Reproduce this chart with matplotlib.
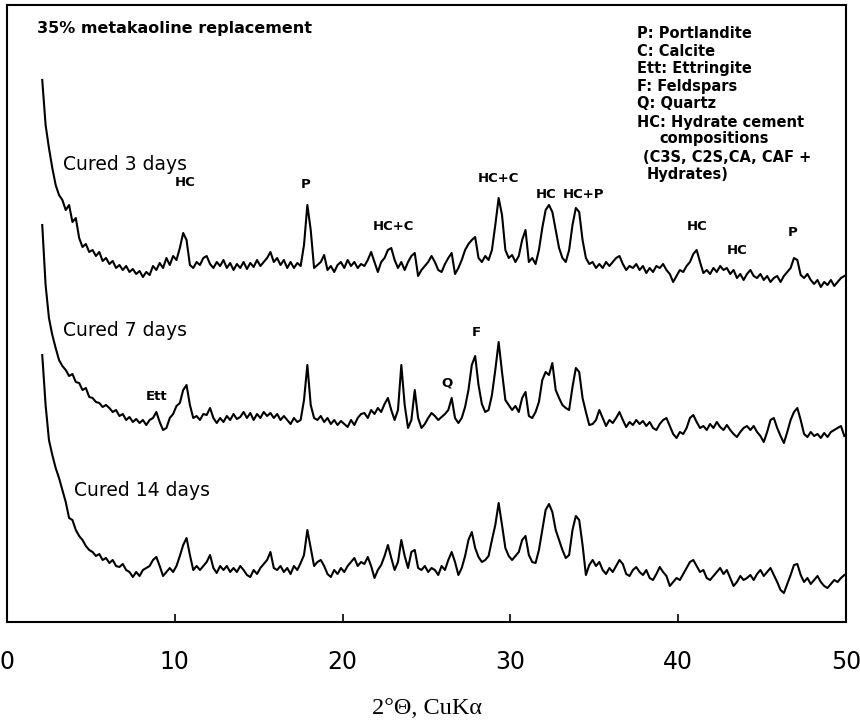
import numpy as np
import matplotlib
matplotlib.use("Agg")
import matplotlib.pyplot as plt

# 2-theta grid (deg), 0.2 deg step
two_theta = np.round(np.arange(2.1, 50.0, 0.2), 1)

# intensities (a.u.), stacked as in the figure
cured_3 = [
    542, 497, 474, 454, 437, 427, 422, 412, 417, 400,
    404, 384, 375, 378, 370, 372, 366, 370, 361, 364,
    358, 361, 354, 357, 352, 356, 350, 353, 348, 351,
    345, 350, 347, 356, 352, 359, 354, 364, 357, 366,
    362, 374, 389, 382, 357, 354, 360, 357, 364, 366,
    358, 354, 360, 356, 362, 354, 359, 352, 358, 354,
    360, 353, 359, 355, 362, 356, 360, 364, 370, 360,
    364, 357, 362, 354, 360, 354, 359, 356, 377, 417,
    392, 354, 357, 360, 367, 352, 356, 350, 357, 360,
    354, 362, 356, 360, 354, 358, 356, 362, 370, 360,
    350, 360, 364, 372, 374, 362, 354, 360, 352, 360,
    366, 369, 346, 352, 356, 360, 366, 360, 352, 350,
    358, 364, 369, 348, 354, 362, 372, 378, 382, 385,
    364, 360, 366, 362, 372, 397, 424, 407, 372, 364,
    367, 360, 366, 382, 392, 360, 364, 358, 372, 394,
    412, 417, 410, 392, 374, 364, 360, 372, 397, 414,
    410, 382, 364, 358, 360, 354, 358, 354, 360, 356,
    360, 364, 366, 358, 352, 356, 354, 358, 352, 356,
    349, 354, 350, 356, 354, 358, 352, 348, 340, 346,
    352, 350, 356, 360, 368, 372, 360, 349, 352, 348,
    354, 350, 356, 352, 354, 348, 352, 344, 348, 342,
    348, 352, 346, 344, 348, 342, 346, 340, 344, 346,
    340, 346, 350, 354, 364, 362, 347, 344, 348, 342,
    338, 342, 335, 340, 337, 342, 336, 340, 344, 346,
]

cured_7 = [
    397, 337, 304, 287, 274, 262, 256, 252, 246, 248,
    240, 239, 232, 234, 225, 224, 220, 219, 215, 217,
    214, 210, 212, 206, 208, 202, 205, 200, 203, 199,
    202, 197, 202, 204, 210, 200, 192, 194, 204, 208,
    216, 219, 232, 237, 217, 204, 206, 202, 208, 207,
    214, 204, 199, 204, 200, 206, 202, 208, 203, 205,
    210, 204, 209, 202, 208, 204, 210, 206, 209, 204,
    208, 202, 206, 202, 198, 204, 200, 202, 222, 257,
    217, 204, 202, 206, 200, 204, 198, 202, 197, 201,
    198, 195, 202, 197, 204, 208, 209, 204, 212, 208,
    214, 210, 218, 224, 212, 202, 212, 257, 217, 194,
    202, 232, 204, 194, 198, 204, 209, 206, 202, 205,
    208, 212, 224, 204, 199, 204, 215, 232, 257, 266,
    237, 218, 210, 212, 227, 252, 280, 250, 222, 217,
    212, 216, 210, 224, 230, 206, 204, 210, 220, 242,
    250, 247, 259, 232, 224, 217, 214, 212, 235, 254,
    250, 224, 210, 197, 198, 202, 212, 204, 196, 202,
    199, 204, 210, 202, 195, 200, 197, 202, 198, 201,
    196, 200, 194, 192, 198, 202, 204, 196, 188, 184,
    190, 188, 194, 204, 207, 200, 194, 196, 192, 198,
    194, 200, 195, 192, 197, 192, 188, 185, 190, 194,
    196, 192, 196, 190, 186, 180, 190, 202, 204, 194,
    186, 179, 190, 202, 210, 214, 202, 188, 185, 190,
    186, 188, 184, 189, 185, 190, 192, 194, 196, 186,
]

cured_14 = [
    267, 217, 182, 167, 154, 144, 132, 120, 104, 102,
    92, 86, 82, 76, 72, 70, 66, 68, 62, 64,
    59, 62, 56, 55, 58, 52, 50, 45, 50, 46,
    52, 54, 56, 62, 65, 56, 46, 50, 54, 50,
    56, 66, 77, 84, 67, 52, 56, 52, 56, 60,
    67, 54, 49, 56, 52, 56, 50, 54, 50, 56,
    52, 47, 45, 52, 48, 54, 58, 62, 70, 54,
    52, 56, 50, 54, 48, 56, 52, 59, 67, 92,
    74, 56, 60, 62, 56, 48, 45, 52, 48, 54,
    50, 56, 60, 64, 56, 60, 58, 65, 56, 44,
    52, 57, 66, 77, 64, 52, 60, 82, 66, 54,
    70, 72, 54, 52, 56, 50, 54, 52, 47, 56,
    52, 62, 70, 60, 47, 54, 66, 82, 90, 74,
    65, 60, 62, 66, 82, 97, 119, 97, 74, 66,
    62, 66, 70, 82, 86, 67, 60, 59, 72, 92,
    112, 118, 110, 92, 82, 72, 64, 67, 92, 106,
    102, 77, 47, 57, 62, 56, 60, 52, 48, 54,
    50, 56, 62, 58, 48, 46, 52, 55, 50, 47,
    52, 44, 42, 48, 55, 50, 46, 36, 40, 44,
    42, 48, 54, 60, 62, 56, 50, 52, 44, 42,
    46, 50, 54, 48, 52, 44, 36, 40, 46, 42,
    44, 47, 42, 48, 52, 46, 50, 54, 47, 40,
    32, 29, 38, 47, 57, 58, 47, 40, 44, 38,
    42, 46, 40, 36, 34, 38, 42, 40, 44, 47,
]

series_names = ["Cured 3 days", "Cured 7 days", "Cured 14 days"]
name_pos = [(3.34, 457), (3.34, 292), (4.0, 132)]

peak_labels = ["HC", "P", "HC+C", "HC+C", "HC", "HC+P", "HC", "HC", "P", "Ett", "Q", "F"]
peak_x = [10.6, 17.8, 23.0, 29.3, 32.1, 34.35, 41.1, 43.5, 46.8, 8.9, 26.2, 27.95]
peak_y = [440, 437, 395, 444, 427, 427, 396, 372, 389, 226, 239, 290]

key_lines = ["P: Portlandite", "C: Calcite", "Ett: Ettringite", "F: Feldspars",
             "Q: Quartz", "HC: Hydrate cement", "compositions",
             "(C3S, C2S,CA, CAF +", "Hydrates)"]
key_x = [37.55, 37.55, 37.55, 37.55, 37.55, 37.55, 38.9, 37.9, 38.1]
key_y = [589, 570, 553, 535, 518, 500, 483, 465, 448]

fig = plt.figure(figsize=(8.6, 7.22), dpi=100)
ax = fig.add_axes([7 / 860, 100 / 722, 839 / 860, 617 / 722])

for vals in [cured_3, cured_7, cured_14]:
    ax.plot(two_theta, vals, color="black", lw=1.5)

ax.set_xlim(0, 50)
ax.set_ylim(0, 617)
ax.set_yticks([])
ax.set_xticks([0, 10, 20, 30, 40, 50])
ax.tick_params(axis="x", direction="in", length=6, width=1.2, pad=20, labelsize=17)
for lab in ax.get_xticklabels():
    lab.set_family(["Liberation Sans Narrow", "DejaVu Sans"])
for sp in ax.spines.values():
    sp.set_linewidth(1.5)

ax.text(1.8, 594, "35% metakaoline replacement", fontsize=11.5, fontweight="bold",
        va="center", ha="left")

for name, (x, y) in zip(series_names, name_pos):
    ax.text(x, y, name, fontsize=13.5, va="center", ha="left")

for lab, x, y in zip(peak_labels, peak_x, peak_y):
    ax.text(x, y, lab, fontsize=9.5, fontweight="bold", va="center", ha="center")

for t, x, y in zip(key_lines, key_x, key_y):
    ax.text(x, y, t, fontsize=10.5, fontweight="bold", va="center", ha="left")

fig.text(427 / 860, 1 - 708 / 722, "2°Θ, CuKα", fontsize=17.5,
         family=["Liberation Serif", "DejaVu Serif"], ha="center", va="center")

fig.savefig("out.png", dpi=100)
